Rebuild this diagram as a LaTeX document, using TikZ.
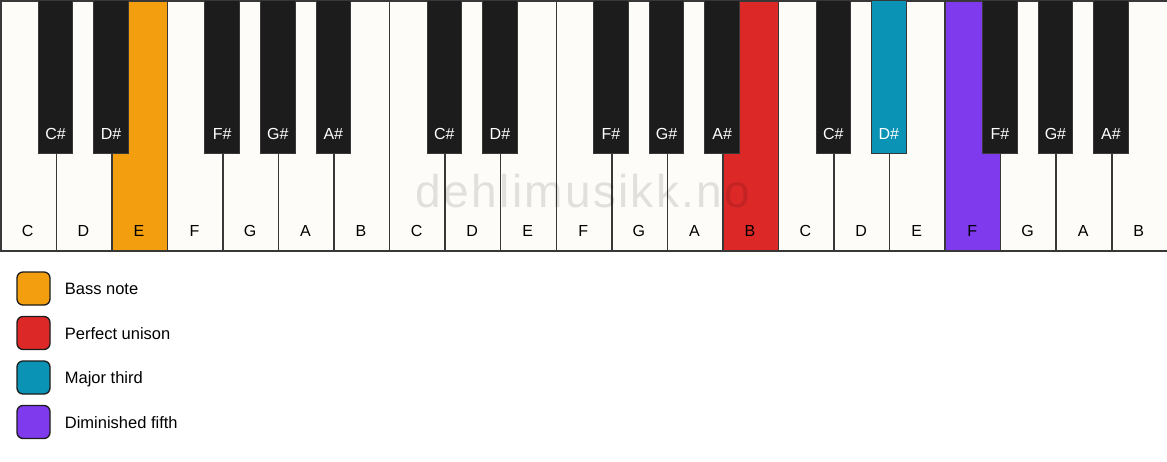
\documentclass[tikz,border=0pt]{standalone}
\usepackage{fontspec}
\setmainfont{Liberation Sans}
\usetikzlibrary{positioning}
\definecolor{keywhite}{HTML}{FDFCF9}
\definecolor{keyblack}{HTML}{1C1C1C}
\definecolor{keyedge}{HTML}{383838}
\definecolor{bassnote}{HTML}{F39E0F}
\definecolor{unison}{HTML}{DD2828}
\definecolor{third}{HTML}{0A93B5}
\definecolor{fifth}{HTML}{7E3AEC}
\newcommand*{\keyw}{55.55}
\newcommand*{\labelfont}{\fontsize{16}{19}\selectfont}
\tikzset{
	whitekey/.style={draw=keyedge, line width=1.5pt, minimum width=\keyw pt, minimum height=250pt, inner sep=0pt, anchor=north west},
	blackkey/.style={draw=keyedge, line width=1pt, minimum width=34.5pt, minimum height=153pt, inner sep=0pt, anchor=north},
	whitename/.style={text=black, font=\labelfont, inner sep=0pt, anchor=base},
	blackname/.style={text=white, font=\labelfont, inner sep=0pt, anchor=base},
	legendbox/.style={draw=keyblack, line width=1.3pt, rounded corners=6pt, minimum size=33pt, inner sep=0pt},
	legendtext/.style={font=\fontsize{16.5}{19}\selectfont, inner sep=0pt, text height=12pt, text depth=0pt, right=14pt of #1},
	watermark/.style={text=black, text opacity=0.11, inner sep=0pt, anchor=base,
		font=\fontsize{46}{50}\selectfont\addfontfeature{LetterSpace=5}}
}

\begin{document}
\begin{tikzpicture}[x=1pt, y=-1pt]
	\useasboundingbox (0, 0) rectangle (1167, 461);
	% white keys
	\foreach \n/\c [count=\i from 0] in {C/keywhite, D/keywhite, E/bassnote, F/keywhite, G/keywhite, A/keywhite, B/keywhite,
		C/keywhite, D/keywhite, E/keywhite, F/keywhite, G/keywhite, A/keywhite, B/unison,
		C/keywhite, D/keywhite, E/keywhite, F/fifth, G/keywhite, A/keywhite, B/keywhite}{
		\node[whitekey, fill=\c] (w\i) at (\i*\keyw, 0) {};
		\node[whitename] (wn\i) at (\i*\keyw + \keyw/2, 236) {\n};
	}
	% black keys, centred on the boundary after key k
	\foreach \n/\k/\c in {C/1/keyblack, D/2/keyblack, F/4/keyblack, G/5/keyblack, A/6/keyblack,
		C/8/keyblack, D/9/keyblack, F/11/keyblack, G/12/keyblack, A/13/keyblack,
		C/15/keyblack, D/16/third, F/18/keyblack, G/19/keyblack, A/20/keyblack}{
		\node[blackkey, fill=\c] (b\k) at (\k*\keyw, 0) {};
		\node[blackname] (bn\k) at (\k*\keyw, 139) {\n\#};
	}
	\node[watermark] (mark) at (583, 207) {dehlimusikk.no};
	% legend
	\foreach \c/\t [count=\i from 0] in {bassnote/Bass note, unison/Perfect unison, third/Major third, fifth/Diminished fifth}{
		\node[legendbox, fill=\c] (box\i) at (33.5, 288.5 + \i*44.5) {};
		\node[legendtext=box\i] (txt\i) {\t};
	}
\end{tikzpicture}
\end{document}
